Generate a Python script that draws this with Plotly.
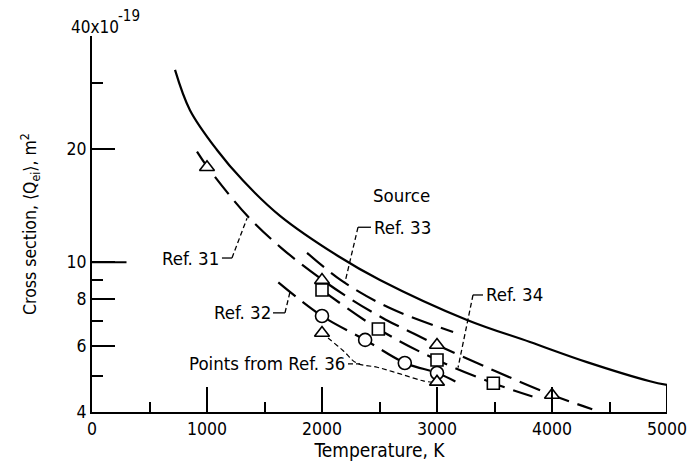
import math
import plotly.graph_objects as go

# values, cross section in units of 1e-19 m^2
source_t = [722, 852, 1087, 1313, 1635, 2139, 2504, 3261, 3809, 4304, 4852, 5000]
source_q = [32.5, 25.4, 19.9, 16.5, 13.3, 10.4, 8.98, 7.03, 6.14, 5.43, 4.83, 4.72]

ref31_t = [913, 1000, 1350, 1650, 2000, 2260, 2550, 2760, 3000, 3500, 4000, 4350]
ref31_q = [19.7, 18.0, 13.3, 10.9, 9.0, 7.95, 7.05, 6.55, 6.03, 5.15, 4.44, 4.07]

ref33_t = [1870, 2180, 2590, 3140]
ref33_q = [10.6, 8.9, 7.56, 6.53]

ref34_t = [2000, 2490, 3000, 3490, 3830]
ref34_q = [8.44, 6.65, 5.5, 4.77, 4.4]

ref32_t = [1620, 2000, 2374, 2722, 3000, 3160]
ref32_q = [8.85, 7.2, 6.22, 5.40, 5.08, 4.82]

ref36_t = [2000, 2050, 2180, 2300, 2480, 2680, 2880, 3000]
ref36_q = [6.49, 6.3, 5.84, 5.4, 5.26, 5.05, 4.84, 4.78]

# data points
tri_t = [1000, 2000, 3000, 4000]
tri_q = [17.9, 8.97, 6.03, 4.44]
sq_t = [2000, 2490, 3000, 3490]
sq_q = [8.44, 6.65, 5.5, 4.77]
circ_t = [2000, 2375, 2720, 3000]
circ_q = [7.2, 6.22, 5.4, 5.08]
pts36_t = [2000, 3000]
pts36_q = [6.49, 4.81]

x_ticks = [0, 1000, 2000, 3000, 4000, 5000]
y_ticks = [4, 6, 8, 10, 20, 40]
y_ticktext = ["4", "6", "8", "10", "20", ""]

FONT = "DejaVu Sans Condensed, Liberation Sans Narrow, DejaVu Sans, sans-serif"
LONG = "22px,9px"
SHORT = "5px,3px"

fig = go.Figure()

fig.add_trace(go.Scatter(x=source_t, y=source_q, mode="lines", line=dict(color="black", width=2.2, shape="spline")))
for t, q in [(ref31_t, ref31_q), (ref33_t, ref33_q), (ref34_t, ref34_q), (ref32_t, ref32_q)]:
    fig.add_trace(go.Scatter(x=t, y=q, mode="lines", line=dict(color="black", width=2.2, dash=LONG, shape="spline")))
fig.add_trace(go.Scatter(x=ref36_t, y=ref36_q, mode="lines", line=dict(color="black", width=1.2, dash=SHORT, shape="spline")))

# leaders from the labels to the curves
leaders = [
    ([2313, 2426], [12.4, 12.4], "solid"),
    ([2313, 2200], [12.4, 8.85], SHORT),
    ([1217, 1130], [10.27, 10.27], "solid"),
    ([1217, 1348], [10.27, 13.1], SHORT),
    ([1678, 1574], [7.34, 7.34], "solid"),
    ([1678, 1722], [7.34, 8.35], SHORT),
    ([2226, 2330], [5.37, 5.37], SHORT),
    ([3313, 3400], [8.19, 8.19], "solid"),
    ([3313, 3183], [8.19, 5.25], SHORT),
]
for lx, ly, d in leaders:
    fig.add_trace(go.Scatter(x=lx, y=ly, mode="lines", line=dict(color="black", width=1.3, dash=d)))

mk = dict(color="white", line=dict(color="black", width=1.6))
fig.add_trace(go.Scatter(x=tri_t, y=tri_q, mode="markers", marker=dict(symbol="triangle-up", size=13, **mk)))
fig.add_trace(go.Scatter(x=sq_t, y=sq_q, mode="markers", marker=dict(symbol="square", size=12, **mk)))
fig.add_trace(go.Scatter(x=circ_t, y=circ_q, mode="markers", marker=dict(symbol="circle", size=13, **mk)))
fig.add_trace(go.Scatter(x=pts36_t, y=pts36_q, mode="markers", marker=dict(symbol="triangle-up", size=13, **mk)))

# right edge closing line at 5000 K, and the longer tick at 10
fig.add_shape(type="line", x0=source_t[-1], x1=source_t[-1], y0=4, y1=source_q[-1],
              line=dict(color="black", width=2))
fig.add_shape(type="line", x0=0, x1=300, y0=10, y1=10, line=dict(color="black", width=2))

def ann(text, t, q, anchor="left"):
    fig.add_annotation(text=text, x=t, y=math.log10(q), xref="x", yref="y", showarrow=False,
                       xanchor=anchor, yanchor="middle", font=dict(size=18.5))

ann("Source", 2687, 15.1, "center")
ann("Ref. 33", 2435, 12.4)
ann("Ref. 31", 1120, 10.27, "right")
ann("Ref. 32", 1570, 7.34, "right")
ann("Points from Ref. 36", 2220, 5.37, "right")
ann("Ref. 34", 3410, 8.19)

fig.add_annotation(text="40x10", x=-0.04, y=1.024, xref="paper", yref="paper",
                   showarrow=False, xanchor="left", yanchor="middle", font=dict(size=17))
fig.add_annotation(text="-19", x=0.042, y=1.052, xref="paper", yref="paper",
                   showarrow=False, xanchor="left", yanchor="middle", font=dict(size=15))
fig.add_annotation(text="Cross section, \u27e8Q<sub>ei</sub>\u27e9, m<sup>2</sup>", x=-0.108, y=0.5,
                   xref="paper", yref="paper", textangle=-90, showarrow=False,
                   xanchor="center", yanchor="middle", font=dict(size=17.5))

fig.update_layout(
    width=688, height=465,
    margin=dict(l=92, r=21, t=36, b=53),
    plot_bgcolor="white", paper_bgcolor="white",
    showlegend=False,
    font=dict(family=FONT, size=17.5, color="black"),
    xaxis=dict(range=[0, 5000], tickvals=x_ticks, ticks="inside", ticklen=25, tickwidth=2,
               tickcolor="black", showline=True, linecolor="black", linewidth=2,
               showgrid=False, zeroline=False, automargin=False,
               minor=dict(tickvals=[500, 1500, 2500, 3500, 4500], ticks="inside", ticklen=10,
                          tickwidth=2, tickcolor="black"),
               title=dict(text="Temperature, K", standoff=0, font=dict(size=19))),
    yaxis=dict(type="log", range=[math.log10(4), math.log10(40)], tickvals=y_ticks,
               ticktext=y_ticktext, ticks="inside", ticklen=23, tickwidth=2, tickcolor="black",
               showline=True, linecolor="black", linewidth=2, showgrid=False, zeroline=False,
               automargin=False,
               minor=dict(tickvals=[5, 7, 9, 30], ticks="inside", ticklen=11, tickwidth=2,
                          tickcolor="black")),
)

fig.write_html("out.html", config={"displayModeBar": False},
               post_script="document.body.style.margin='0';")
